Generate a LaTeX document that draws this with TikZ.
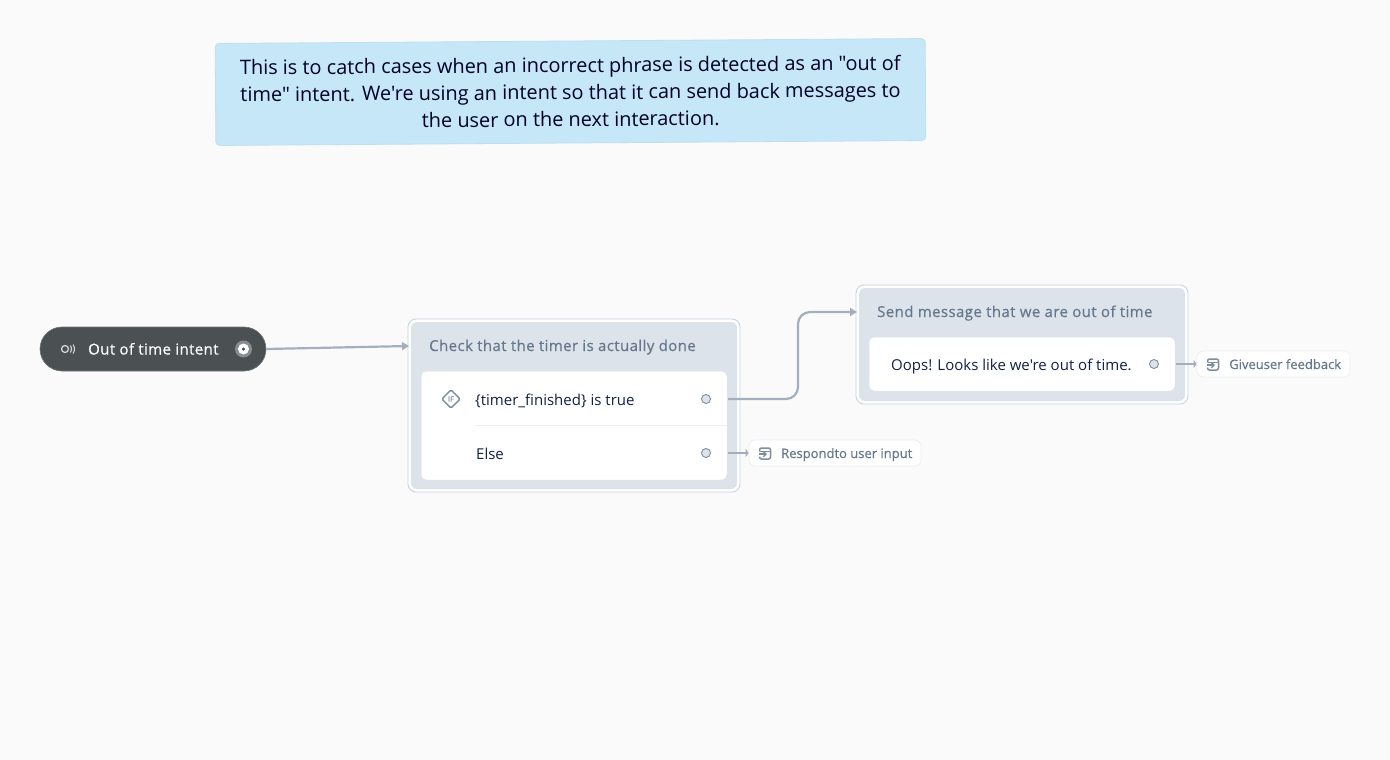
\documentclass[tikz,border=0pt]{standalone}
\usepackage{fontspec}
\setmainfont{Open Sans}
\newfontfamily\plainfont{Open Sans}
\newfontfamily\semifont[FakeBold=0.6]{Open Sans}
\newfontfamily\titlefont[FakeBold=0.6,LetterSpace=2.7]{Open Sans}
\usetikzlibrary{arrows.meta,shapes.geometric}
\definecolor{pagebg}{HTML}{FAFAFA}
\definecolor{notebg}{HTML}{C5E7F7}
\definecolor{noteedge}{HTML}{BEDFEF}
\definecolor{pilldark}{HTML}{4B5052}
\definecolor{blockbg}{HTML}{DDE3EA}
\definecolor{blockedge}{HTML}{C9D3DF}
\definecolor{titlegray}{HTML}{66788D}
\definecolor{inkblue}{HTML}{132144}
\definecolor{wire}{HTML}{A3AFBF}
\definecolor{rulegray}{HTML}{EBEEF2}
\definecolor{iconedge}{HTML}{7D8EA2}
\tikzset{
  note/.style = {fill=notebg, draw=noteedge, line width=0.8pt, rounded corners=4pt, align=center, inner sep=0pt, text=black!85!blue, minimum width=710pt, minimum height=102pt, font=\plainfont\fontsize{19.9}{27}\selectfont},
  pill/.style = {fill=pilldark, draw=pilldark!80!white, line width=0.6pt, rounded corners=22pt, minimum width=226pt, minimum height=44pt, inner sep=0pt},
  outer/.style = {fill=white, draw=blockedge, line width=0.9pt, rounded corners=8pt, inner sep=0pt},
  inner/.style = {fill=blockbg, rounded corners=6pt, inner sep=0pt},
  card/.style = {fill=white, draw=blockedge!70!white, line width=0.5pt, rounded corners=5pt, inner sep=0pt},
  chip/.style = {fill=white, draw=rulegray, line width=0.7pt, rounded corners=6pt, inner sep=0pt},
  port/.style = {circle, fill=blockbg, draw=iconedge, line width=0.9pt, minimum size=9pt, inner sep=0pt},
  title/.style = {anchor=base west, inner sep=0pt, text=titlegray, font=\titlefont\fontsize{15}{18}\selectfont},
  label/.style = {anchor=base west, inner sep=0pt, text=inkblue, font=\plainfont\fontsize{15}{18}\selectfont},
  chiptext/.style = {anchor=base west, inner sep=0pt, text=titlegray, font=\semifont\fontsize{13}{16}\selectfont},
  wireline/.style = {draw=wire, line width=2.2pt, rounded corners=12pt},
  bigtip/.style = {-{Triangle[length=7pt,width=8pt]}},
  smalltip/.style = {-{Triangle[length=3pt,width=8pt]}},
  exiticon/.pic = {
    \draw[iconedge, line width=1.5pt, rounded corners=2pt] (-5.5,-2) -- (-5.5,-5.5) -- (5.5,-5.5) -- (5.5,5.5) -- (-5.5,5.5) -- (-5.5,3);
    \draw[iconedge, line width=1.3pt] (-5.5,-2) -- (5.5,-2);
    \draw[iconedge, line width=1.5pt, -{Straight Barb[length=2.5pt,width=5pt]}] (-6.5,0.7) -- (2,0.7);
  },
  signalicon/.pic = {
    \draw[white!85!black, line width=1.2pt] (-3,0) circle (3.5pt);
    \draw[white!85!black, line width=1.1pt] (2.5,-3.5) .. controls (4,-1.5) and (4,1.5) .. (2.5,3.5);
    \draw[white!85!black, line width=1.1pt] (5,-4.5) .. controls (7,-1.5) and (7,1.5) .. (5,4.5);
  }
}
\begin{document}
\begin{tikzpicture}[x=1pt, y=-1pt]
\useasboundingbox[fill=pagebg] (0,0) rectangle (1390,760);

% note on top
\node[note, rotate=0.4] (comment) at (570.5,92) {This is to catch cases when an incorrect phrase is detected as an "out of\\time" intent. We're using an intent so that it can send back messages to\\the user on the next interaction.};

% intent
\node[pill] (intent) at (153,349) {};
\pic at (68,349) {signalicon};
\node[label, text=white, font=\titlefont\fontsize{15}{18}\selectfont] (intenttext) at (88,354.5) {Out of time intent};
\node[circle, fill=white!35!pilldark, minimum size=17pt, inner sep=0pt] (intentport) at (243.5,349) {};
\node[circle, fill=white, minimum size=11pt, inner sep=0pt] (intentring) at (243.5,349) {};
\node[circle, fill=pilldark, minimum size=3.5pt, inner sep=0pt] (intentdot) at (243.5,349) {};

% timer block
\node[outer, minimum width=332pt, minimum height=173pt] (checkout) at (574,405.5) {};
\node[inner, minimum width=326pt, minimum height=167pt] (check) at (574,405.5) {};
\node[title] (checktitle) at (429,351) {Check that the timer is actually done};
\node[card, minimum width=306pt, minimum height=109pt] (checkcard) at (574,425.5) {};
\draw[rulegray, line width=0.9pt] (475,425.5) -- (checkcard.east |- 475,425.5);
\node[diamond, draw=iconedge, line width=1.4pt, rounded corners=1.5pt, minimum size=19pt, inner sep=0pt] (ificon) at (451,399) {};
\node[text=iconedge, inner sep=0pt, font=\semifont\fontsize{7.5}{8}\selectfont] (iftext) at (451,399) {IF};
\node[label] (cond) at (475,405) {\{timer\_finished\} is true};
\node[label] (else) at (476,459) {Else};
\node[port] (condport) at (706,399) {};
\node[port] (elseport) at (706,453) {};

% message block
\node[outer, minimum width=332pt, minimum height=119pt] (sendout) at (1022,344.5) {};
\node[inner, minimum width=326pt, minimum height=113pt] (send) at (1022,344.5) {};
\node[title] (sendtitle) at (877,317) {Send message that we are out of time};
\node[card, minimum width=306pt, minimum height=54pt] (sendcard) at (1022,364) {};
\node[label] (oops) at (891,370) {Oops! Looks like we're out of time.};
\node[port] (oopsport) at (1154,364) {};

% link chips
\node[chip, minimum width=172pt, minimum height=26pt] (respond) at (835,453) {};
\pic at (765,453.5) {exiticon};
\node[chiptext] (respondtext) at (781,458) {Respondto user input};
\node[chip, minimum width=153pt, minimum height=26pt] (give) at (1273.5,364) {};
\pic at (1213,364.5) {exiticon};
\node[chiptext] (givetext) at (1229,369) {Giveuser feedback};

% free ends
\coordinate (checkin) at (409,346);
\coordinate (sendin) at (857,312);
\coordinate (condout) at (728,399);
\coordinate (elseout) at (728,453);
\coordinate (oopsout) at (1176,364);

\draw[wireline, bigtip] (intent.east) -- (checkin);
\draw[wireline, bigtip] (condout) -- (798,399) -- (798,312) -- (sendin);
\draw[wireline, smalltip] (elseout) -- (respond.west);
\draw[wireline, smalltip] (oopsout) -- (give.west);
\end{tikzpicture}
\end{document}
